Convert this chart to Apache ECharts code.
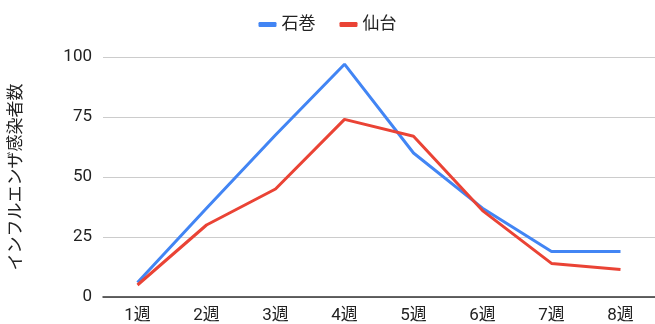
<!DOCTYPE html>
<html>
<head>
<meta charset="utf-8">
<script src="https://cdn.jsdelivr.net/npm/echarts@6/dist/echarts.min.js"></script>
<style>
  html, body { margin: 0; padding: 0; background: #fff; }
  #chart { width: 655px; height: 324px; }
</style>
</head>
<body>
<div id="chart"></div>
<script>
// weeks on the x axis
const weeks = ['1週', '2週', '3週', '4週', '5週', '6週', '7週', '8週'];
// infection counts
const ishinomaki = [6, 37, 67.5, 97, 60, 37, 19, 19];
const sendai = [5, 30, 45, 74, 67, 36, 14, 11.5];
const seriesNames = ['石巻', '仙台'];

const font = 'Roboto, "Noto Sans CJK JP", sans-serif';

let chart = echarts.init(document.getElementById('chart'));

let option = {
    animation: false,
    textStyle: { fontFamily: font },
    legend: {
        top: 11,
        left: 'center',
        itemWidth: 18,
        itemHeight: 5,
        itemGap: 24,
        icon: 'roundRect',
        textStyle: { fontSize: 17, color: '#222', fontFamily: font },
        data: seriesNames
    },
    grid: { left: 100, top: 57, width: 560, height: 240, containLabel: false },
    xAxis: {
        type: 'category',
        data: weeks,
        boundaryGap: true,
        axisLine: { lineStyle: { color: '#333', width: 1.5 } },
        axisTick: { show: false },
        axisLabel: { color: '#222', fontSize: 17, margin: 10, fontFamily: font }
    },
    yAxis: {
        type: 'value',
        min: 0,
        max: 100,
        interval: 25,
        name: 'インフルエンザ感染者数',
        nameLocation: 'middle',
        nameGap: 78,
        nameTextStyle: { fontSize: 17, color: '#222', fontFamily: font },
        axisLine: { show: false },
        axisTick: { show: false },
        axisLabel: { color: '#222', fontSize: 17, margin: 11, fontFamily: font },
        splitLine: { lineStyle: { color: '#ccc', width: 1 } }
    },
    series: [
        {
            name: seriesNames[0],
            type: 'line',
            data: ishinomaki,
            symbol: 'none',
            itemStyle: { color: '#4285F4' },
            lineStyle: { color: '#4285F4', width: 3 }
        },
        {
            name: seriesNames[1],
            type: 'line',
            data: sendai,
            symbol: 'none',
            itemStyle: { color: '#EA4335' },
            lineStyle: { color: '#EA4335', width: 3 }
        }
    ]
};

chart.setOption(option);
</script>
</body>
</html>
